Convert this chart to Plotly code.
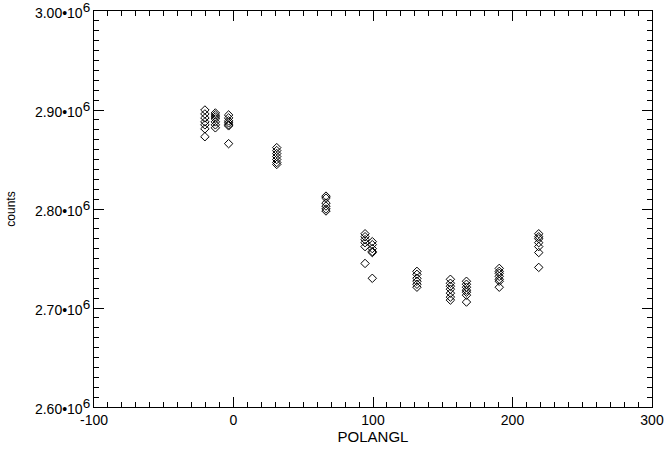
import plotly.graph_objects as go

x_pos = [-20.5, -13.0, -3.5, 31.0, 66.3, 94.3, 99.5, 131.5, 155.5, 167.0, 190.5, 218.8]
y_groups = [
    [2.900, 2.896, 2.892, 2.888, 2.885, 2.881, 2.873],
    [2.897, 2.895, 2.893, 2.891, 2.888, 2.885, 2.882],
    [2.895, 2.892, 2.889, 2.887, 2.885, 2.884, 2.866],
    [2.862, 2.859, 2.856, 2.853, 2.850, 2.847, 2.845],
    [2.813, 2.811, 2.806, 2.803, 2.800, 2.798],
    [2.775, 2.772, 2.769, 2.766, 2.762, 2.745],
    [2.767, 2.764, 2.760, 2.757, 2.756, 2.730],
    [2.737, 2.734, 2.730, 2.727, 2.724, 2.721],
    [2.729, 2.725, 2.722, 2.719, 2.715, 2.711, 2.708],
    [2.727, 2.724, 2.721, 2.718, 2.716, 2.713, 2.706],
    [2.740, 2.737, 2.735, 2.732, 2.729, 2.727, 2.721],
    [2.775, 2.772, 2.770, 2.766, 2.762, 2.756, 2.741],
]
y_tick_vals = [2.60e6, 2.70e6, 2.80e6, 2.90e6, 3.00e6]
y_tick_mant = ["2.60", "2.70", "2.80", "2.90", "3.00"]
y_tick_text = [m + "•10<sup><span style='font-size:13.5px'>6</span></sup>" for m in y_tick_mant]
x_tick_vals = [-100, 0, 100, 200, 300]
x_tick_text = ["-100", "0", "100", "200", "300"]

xs, ys = [], []
for xp, grp in zip(x_pos, y_groups):
    for v in grp:
        xs.append(xp)
        ys.append(v * 1e6)

fig = go.Figure(go.Scatter(
    x=xs, y=ys, mode="markers",
    marker=dict(symbol="diamond-open", size=6.5, color="black", line=dict(width=1, color="black")),
    showlegend=False,
))

fam = "Liberation Sans, Arial, sans-serif"
font = dict(family=fam, size=14, color="black")
fig.update_layout(
    width=665, height=452,
    margin=dict(l=94, r=13, t=11, b=45),
    paper_bgcolor="white", plot_bgcolor="white",
    font=font,
)
fig.update_xaxes(
    range=[-100, 300], tickvals=x_tick_vals, ticktext=x_tick_text, ticks="inside", ticklen=10,
    tickwidth=1, tickcolor="black", showline=True, linecolor="black", linewidth=1,
    mirror="allticks", showgrid=False, zeroline=False, automargin=False, tickfont=font,
    ticklabeloverflow="allow",
    minor=dict(dtick=10, ticks="inside", ticklen=5, tickcolor="black", showgrid=False),
    title=dict(text="POLANGL", standoff=3, font=dict(family=fam, size=15, color="black")),
)
fig.update_yaxes(
    range=[2.60e6, 3.00e6], tickvals=y_tick_vals, ticktext=y_tick_text, ticks="inside",
    ticklen=10, tickwidth=1, tickcolor="black", showline=True, linecolor="black", linewidth=1,
    mirror="allticks", showgrid=False, zeroline=False, automargin=False, tickfont=font,
    ticklabeloverflow="allow", ticklabelshift=2,
    minor=dict(dtick=1e4, ticks="inside", ticklen=5, tickcolor="black", showgrid=False),
    title=dict(text="counts", standoff=16, font=dict(family=fam, size=12, color="black")),
)

fig.write_html(
    "out.html",
    config={"displayModeBar": False},
    post_script="document.body.style.margin='0';document.body.style.overflow='hidden';",
)
